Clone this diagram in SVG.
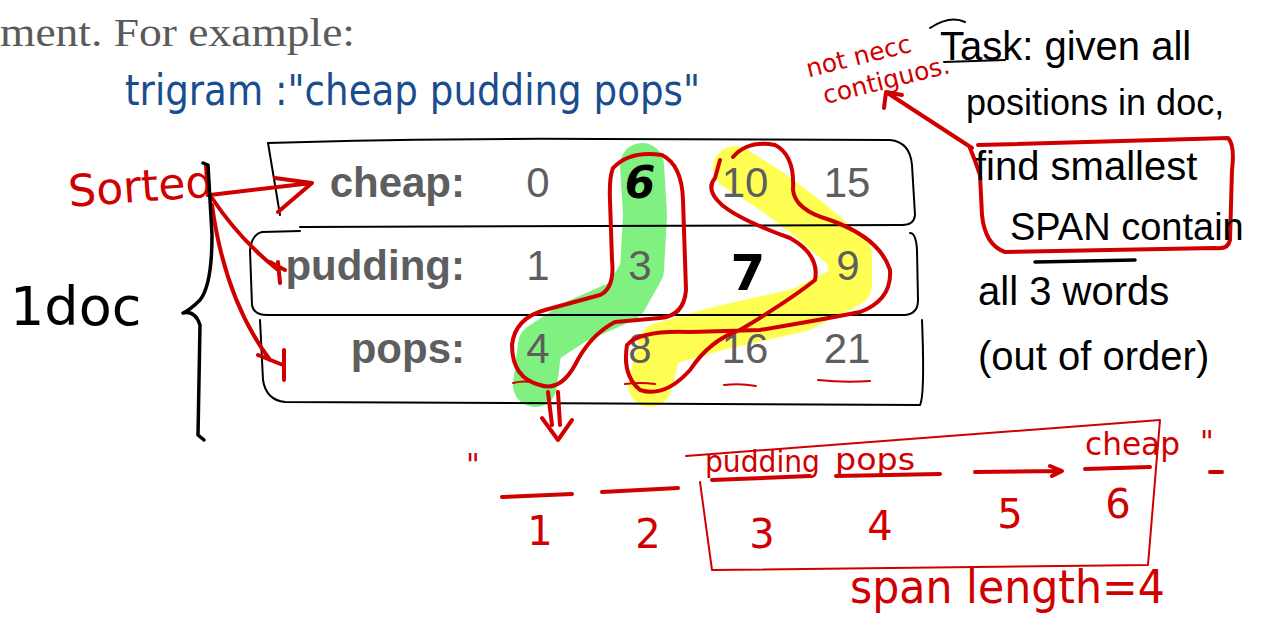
<svg xmlns="http://www.w3.org/2000/svg" width="1274" height="622" viewBox="0 0 1274 622">
<style>
.hand{font-family:"DejaVu Sans",sans-serif;}
.note{font-family:"Liberation Sans",sans-serif;fill:#000;}
.red{fill:#d00000;}
.blk{fill:#000;}
.rs{fill:none;stroke:#d00000;stroke-width:4;stroke-linecap:round;stroke-linejoin:round;}
.rt{fill:none;stroke:#d00000;stroke-width:2;stroke-linecap:round;stroke-linejoin:round;}
.ks{fill:none;stroke:#000;stroke-width:2;stroke-linecap:round;stroke-linejoin:round;}
.kb{fill:none;stroke:#000;stroke-width:3.5;stroke-linecap:round;stroke-linejoin:round;}
.lab{font-family:"Liberation Sans",sans-serif;font-weight:bold;font-size:42px;fill:#5e5e5e;text-anchor:end;}
.num{font-family:"Liberation Sans",sans-serif;font-size:42px;fill:#5e5e5e;text-anchor:middle;}
</style>
<rect width="1274" height="622" fill="#fff"/>
<text x="0" y="46" font-family="Liberation Serif,serif" font-size="40" fill="#5a5a5a" textLength="355" lengthAdjust="spacingAndGlyphs">ment. For example:</text>
<text class="hand" x="125" y="105" font-size="42" fill="#1a4d8f" textLength="575" lengthAdjust="spacingAndGlyphs">trigram :"cheap pudding pops"</text>

<!-- highlights -->
<g id="highlights">
<path d="M642 165 L645 215 L642 270 L625 300 L575 322 L540 345 L535 385" fill="none" stroke="#80f080" stroke-width="44" stroke-linecap="round" stroke-linejoin="round"/>
<path d="M735 168 L770 190 L810 220 L850 255 L850 285 L800 310 L720 328 L660 345 L650 385" fill="none" stroke="#ffff40" stroke-opacity="0.9" stroke-width="44" stroke-linecap="round" stroke-linejoin="round"/>
</g>

<!-- row boxes -->
<g id="row-cheap">
<path class="ks" d="M268 143 Q420 138 600 139 L890 140 Q910 142 912 165 L915 215 Q914 226 900 225 L300 227"/>
<path class="ks" d="M268 143 L280 215"/>
<text class="lab" x="465" y="197">cheap:</text>
<text class="num" x="538" y="197">0</text>
<text class="num" x="745" y="197">10</text>
<text class="num" x="847" y="197">15</text>
</g>
<g id="row-pudding">
<path class="ks" d="M262 232 Q252 234 250 250 L252 305 Q254 316 270 315 L905 315 Q918 314 918 300 L917 250 Q916 233 910 233"/>
<path class="ks" d="M262 232 L300 231"/>
<text class="lab" x="465" y="280">pudding:</text>
<text class="num" x="538" y="280">1</text>
<text class="num" x="640" y="280">3</text>
<text class="num" x="848" y="280">9</text>
</g>
<g id="row-pops">
<path class="ks" d="M260 320 L263 380 Q266 400 285 402 L920 405 Q925 395 922 320"/>
<text class="lab" x="465" y="363">pops:</text>
<text class="num" x="538" y="363">4</text>
<text class="num" x="640" y="363">8</text>
<text class="num" x="745" y="363">16</text>
<text class="num" x="847" y="363">21</text>
</g>

<!-- overwritten numbers -->
<text class="hand blk" x="640" y="198" font-size="44" font-weight="bold" font-style="italic" text-anchor="middle">6</text>
<text class="hand blk" x="748" y="290" font-size="50" font-weight="bold" text-anchor="middle">7</text>

<!-- red loops and marks -->
<g id="connectors">
<path class="rs" d="M613 168 Q630 150 662 155 Q682 165 683 200 L686 290 Q684 316 660 318 L615 322 Q590 335 575 365 Q560 392 540 385 Q512 378 512 345 Q515 318 545 310 L600 295 Q615 288 612 260 L610 200 Q609 178 613 168"/>
<path class="rs" d="M733 157 Q748 140 775 145 Q795 155 793 190 Q795 210 830 220 Q880 238 890 270 Q892 300 860 312 Q820 320 760 330 L690 332 Q640 330 627 345 Q622 375 640 390 Q665 398 690 370 Q710 340 740 330 Q790 300 815 280 Q820 255 790 238 Q740 220 722 205 Q705 190 715 178 L720 160"/>
<path class="rt" d="M513 383 Q525 380 535 383"/>
<path class="rt" d="M625 384 Q640 382 655 384"/>
<path class="rt" d="M724 385 Q740 383 756 386"/>
<path class="rt" d="M818 380 Q845 383 870 381"/>
<!-- down arrow -->
<path class="rs" d="M548 392 L552 425 M558 392 L560 425 M542 418 L558 440 L572 420"/>
<!-- sorted arrows -->
<path class="rs" d="M210 195 L312 183 M275 178 L312 183 L278 212"/>
<path class="rs" d="M212 198 Q240 240 278 270 M270 262 L285 270 M278 262 L280 283"/>
<path class="rs" d="M212 205 Q225 300 270 360 M258 355 L283 365 M284 350 L284 380"/>
<!-- arrow to note -->
<path class="rs" d="M972 148 L886 92 M884 108 L886 92 L902 95"/>
<!-- box around find smallest SPAN -->
<path class="rs" d="M978 145 L1228 138 Q1235 145 1232 170 L1230 240 Q1228 250 1215 248 L1005 252 Q985 245 982 215 L980 175 Q975 160 970 148"/>
</g>

<!-- left annotations -->
<g id="left-notes">
<text class="hand red" x="68" y="202" font-size="44" transform="rotate(-4 135 185)">Sorted</text>
<text class="hand blk" x="10" y="325" font-size="54">1doc</text>
<path class="kb" d="M203 163 L208 165 L212 235 Q212 285 200 300 Q190 310 183 313 Q195 310 200 325 L198 435 L204 440"/>
</g>

<!-- right notes -->
<g id="task-notes">
<g transform="rotate(-14 870 60)">
<text class="hand red" x="806" y="62" font-size="25">not necc</text>
<text class="hand red" x="816" y="92" font-size="25">contiguos.</text>
</g>
<path class="ks" d="M930 28 Q950 15 965 22"/>
<text class="note" x="940" y="60" font-size="40">Task: given all</text>
<path class="ks" d="M944 62 L1005 60"/>
<text class="note" x="966" y="115" font-size="36">positions in doc,</text>
<text class="note" x="975" y="180" font-size="40">find smallest</text>
<text class="note" x="1010" y="240" font-size="38">SPAN contain</text>
<path class="kb" d="M1035 262 L1135 260"/>
<text class="note" x="978" y="305" font-size="40">all 3 words</text>
<text class="note" x="978" y="370" font-size="40">(out of order)</text>
</g>

<!-- bottom timeline -->
<g id="span-example">
<text class="hand red" x="466" y="475" font-size="30">"</text>
<path class="rs" d="M502 497 L572 494"/>
<path class="rs" d="M602 492 L678 488"/>
<path class="rs" d="M712 480 L810 476"/>
<path class="rs" d="M836 476 L940 474"/>
<path class="rs" d="M975 472 L1060 471 M1050 466 L1062 471 L1052 476"/>
<path class="rs" d="M1085 469 L1150 467"/>
<path class="rs" d="M1210 472 L1222 472"/>
<text class="hand red" x="1200" y="452" font-size="30">"</text>
<text class="hand red" x="540" y="545" font-size="40" text-anchor="middle">1</text>
<text class="hand red" x="648" y="548" font-size="40" text-anchor="middle">2</text>
<text class="hand red" x="762" y="548" font-size="40" text-anchor="middle">3</text>
<text class="hand red" x="880" y="540" font-size="40" text-anchor="middle">4</text>
<text class="hand red" x="1010" y="528" font-size="40" text-anchor="middle">5</text>
<text class="hand red" x="1118" y="518" font-size="40" text-anchor="middle">6</text>
<text class="hand red" x="705" y="472" font-size="30" textLength="115" lengthAdjust="spacingAndGlyphs">pudding</text>
<text class="hand red" x="835" y="470" font-size="30" textLength="80" lengthAdjust="spacingAndGlyphs">pops</text>
<text class="hand red" x="1085" y="455" font-size="32" textLength="95" lengthAdjust="spacingAndGlyphs">cheap</text>
<path class="rt" d="M686 456 L1160 420 L1148 565 L712 570 L700 482"/>
<text class="hand red" x="850" y="603" font-size="46" textLength="315" lengthAdjust="spacingAndGlyphs">span length=4</text>
</g>
</svg>
